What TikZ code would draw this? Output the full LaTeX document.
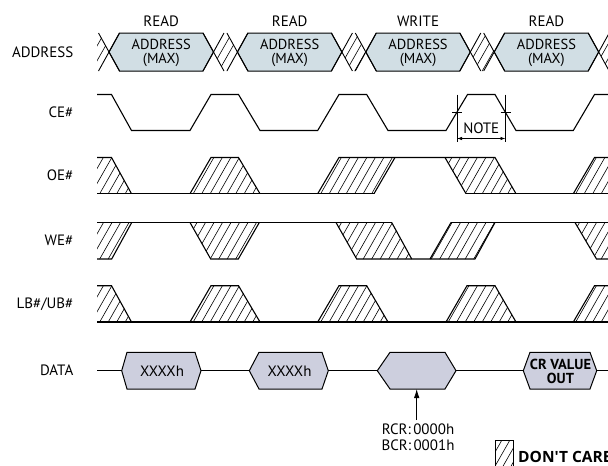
\documentclass[tikz,border=0pt]{standalone}
\usepackage{fontspec}
\setmainfont{PT Sans}
\newfontfamily\legendfont{Open Sans}
\usetikzlibrary{arrows.meta}
\definecolor{addrcol}{RGB}{209,222,228}
\definecolor{datacol}{RGB}{205,207,222}
\tikzset{
  sig/.style={line width=1.1pt, line join=miter, line cap=butt},
  thinline/.style={line width=0.8pt},
  hatchline/.style={line width=0.6pt},
  lbl/.style={anchor=east, inner sep=0pt, font=\fontsize{15}{15}\selectfont},
  txt/.style={inner sep=0pt, align=center, font=\fontsize{15}{12.5}\selectfont},
  addrtxt/.style={inner sep=0pt, align=center, font=\fontsize{14.5}{13.5}\selectfont},
  boldtxt/.style={inner sep=0pt, align=center, font=\fontsize{14.5}{13.5}\selectfont\bfseries},
  addrhex/.style={sig, line width=1pt, fill=addrcol},
  datahex/.style={sig, line width=1pt, fill=datacol},
}
\newcommand\hatchclip[3]{%
  \begin{scope}
    \clip #3;
    \foreach \hx in {30,38.5,...,620}
      \draw[hatchline] (\hx,#2+3) -- ++({0.57*(#2-#1+6)},{-(#2-#1+6)});
  \end{scope}}
\begin{document}
\begin{tikzpicture}[x=1pt,y=-1pt]
\useasboundingbox (0,0) rectangle (608,466);
\clip (0,0) rectangle (608,466);

% ---------- row labels ----------
\node[lbl] (laddr) at (73.5,52) {ADDRESS};
\node[lbl] (lce)   at (73.5,112.5) {CE\#};
\node[lbl] (loe)   at (73.5,175.6) {OE\#};
\node[lbl] (lwe)   at (73.5,240.7) {WE\#};
\node[lbl] (llb)   at (73.5,304) {LB\#/UB\#};
\node[lbl] (ldata) at (73.5,370.7) {DATA};

% ---------- ADDRESS ----------
\hatchclip{33}{71}{(97,33)--(98.5,33)--(109,52)--(98.5,71)--(97,71)--cycle
  (213.5,52)--(224,33)--(226.9,33)--(237.4,52)--(226.9,71)--(224,71)--cycle
  (341.9,52)--(352.4,33)--(355.3,33)--(365.8,52)--(355.3,71)--(352.4,71)--cycle
  (470.3,52)--(480.8,33)--(483.7,33)--(494.2,52)--(483.7,71)--(480.8,71)--cycle
  (598.7,52)--(609.2,33)--(612.1,33)--(622.6,52)--(612.1,71)--(609.2,71)--cycle}
\begin{scope}
\clip (97,0) rectangle (620,100);
\foreach \i/\lab in {0/READ,1/READ,2/WRITE,3/READ}{
  \pgfmathsetmacro\L{109+128.4*\i}
  \pgfmathsetmacro\R{\L+104.5}
  \filldraw[addrhex] (\L,52) -- (\L+10.5,33) -- (\R-10.5,33) -- (\R,52) -- (\R-10.5,71) -- (\L+10.5,71) -- cycle;
  \draw[sig,line width=0.9pt] (\L+10.5,33) -- (\L-10.5,71);
  \draw[sig,line width=0.9pt] (\L+10.5,71) -- (\L-10.5,33);
  \draw[sig,line width=0.9pt] (\R-10.5,33) -- (\R+10.5,71);
  \draw[sig,line width=0.9pt] (\R-10.5,71) -- (\R+10.5,33);
}
\end{scope}
\foreach \i/\lab in {0/READ,1/READ,2/WRITE,3/READ}{
  \pgfmathsetmacro\L{109+128.4*\i}
  \pgfmathsetmacro\R{\L+104.5}
  \node[addrtxt] (addr\i) at ({(\L+\R)/2},53) {ADDRESS\\(MAX)};
  \node[txt] (op\i) at ({(\L+\R)/2},21) {\lab};
}

% ---------- CE# ----------
\draw[sig] (97,94.5) -- (111.5,94.5) -- (131.5,130.5) -- (190,130.5) -- (211,94.5)
  -- (238.5,94.5) -- (260,130.5) -- (317.7,130.5) -- (339,94.5) -- (366.7,94.5)
  -- (388,130.5) -- (446,130.5) -- (467.5,94.5) -- (495,94.5) -- (516,130.5)
  -- (573.3,130.5) -- (594.5,94.5) -- (612,94.5);
\coordinate (n1) at (457,94.5);
\coordinate (n2) at (505.5,94.5);
\coordinate (n1b) at (457,142);
\coordinate (n2b) at (505.5,142);
\draw[thinline] (n1) -- (n1b);
\draw[thinline] (n2) -- (n2b);
\draw[thinline] (452,112.5) -- (462,112.5);
\draw[thinline] (500.5,112.5) -- (510.5,112.5);
\coordinate (na) at (457,138.5);
\coordinate (nb) at (505.5,138.5);
\draw[thinline,{Latex[length=5pt,width=3.5pt]}-{Latex[length=5pt,width=3.5pt]}] (na) -- (nb);
\node[txt] (note) at (481.25,128) {NOTE};

% ---------- OE# ----------
\hatchclip{157.5}{193.7}{(97,157.5)--(111.5,157.5)--(131.5,193.7)--(97,193.7)--cycle
  (190,193.7)--(211,157.5)--(238.5,157.5)--(260,193.7)--cycle
  (317.7,193.7)--(339,157.5)--(395,157.5)--(374,193.7)--cycle
  (445,157.5)--(495,157.5)--(516,193.7)--(466,193.7)--cycle
  (573.3,193.7)--(594.5,157.5)--(612,157.5)--(612,193.7)--cycle}
\draw[sig] (97,157.5) -- (111.5,157.5) -- (131.5,193.7);
\draw[sig] (97,193.7) -- (374,193.7);
\draw[sig] (190,193.7) -- (211,157.5) -- (238.5,157.5) -- (260,193.7);
\draw[sig] (317.7,193.7) -- (339,157.5) -- (495,157.5) -- (516,193.7);
\draw[sig] (374,193.7) -- (395,157.5);
\draw[sig] (445,157.5) -- (466,193.7);
\draw[sig] (466,193.7) -- (612,193.7);
\draw[sig] (573.3,193.7) -- (594.5,157.5) -- (612,157.5);

% ---------- WE# ----------
\hatchclip{222.5}{259}{(97,222.5)--(131.7,222.5)--(111.7,259)--(97,259)--cycle
  (190,222.5)--(259.3,222.5)--(238.3,259)--(210.7,259)--cycle
  (336,222.5)--(391.7,222.5)--(411.7,259)--(356.7,259)--cycle
  (430,259)--(451,222.5)--(495,222.5)--(475,259)--cycle
  (575,222.5)--(612,222.5)--(612,259)--(596.5,259)--cycle}
\draw[sig] (97,222.5) -- (391.7,222.5);
\draw[sig] (451,222.5) -- (612,222.5);
\draw[sig] (97,259) -- (111.7,259) -- (131.7,222.5);
\draw[sig] (190,222.5) -- (210.7,259) -- (238.3,259) -- (259.3,222.5);
\draw[sig] (336,222.5) -- (356.7,259) -- (475,259) -- (495,222.5);
\draw[sig] (391.7,222.5) -- (411.7,259);
\draw[sig] (430,259) -- (451,222.5);
\draw[sig] (575,222.5) -- (596.5,259) -- (612,259);

% ---------- LB#/UB# ----------
\hatchclip{285.7}{322}{(97,285.7)--(111.5,285.7)--(131.5,322)--(97,322)--cycle
  (190,322)--(211,285.7)--(238.5,285.7)--(260,322)--cycle
  (317.7,322)--(339,285.7)--(366.7,285.7)--(388,322)--cycle
  (446,322)--(467,285.7)--(495,285.7)--(516,322)--cycle
  (573.3,322)--(594.5,285.7)--(612,285.7)--(612,322)--cycle}
\draw[sig] (97,322) -- (612,322);
\draw[sig] (97,285.7) -- (111.5,285.7) -- (131.5,322);
\draw[sig] (190,322) -- (211,285.7) -- (238.5,285.7) -- (260,322);
\draw[sig] (317.7,322) -- (339,285.7) -- (366.7,285.7) -- (388,322);
\draw[sig] (446,322) -- (467,285.7) -- (495,285.7) -- (516,322);
\draw[sig] (573.3,322) -- (594.5,285.7) -- (612,285.7);

% ---------- DATA ----------
\draw[sig] (97,370.7) -- (121.7,370.7);
\draw[sig] (201,370.7) -- (249.3,370.7);
\draw[sig] (328.3,370.7) -- (377.3,370.7);
\draw[sig] (456,370.7) -- (523.3,370.7);
\draw[sig] (596.7,370.7) -- (612,370.7);
\filldraw[datahex] (121.7,370.7) -- (127,352.3) -- (195,352.3) -- (201,370.7) -- (195,389) -- (127,389) -- cycle;
\filldraw[datahex] (249.3,370.7) -- (259,352.3) -- (322,352.3) -- (328.3,370.7) -- (322,389) -- (259,389) -- cycle;
\filldraw[datahex] (377.3,370.7) -- (390,352.3) -- (445,352.3) -- (456,370.7) -- (445,389) -- (390,389) -- cycle;
\filldraw[datahex] (523.3,370.7) -- (530,352.3) -- (590,352.3) -- (596.7,370.7) -- (590,389) -- (530,389) -- cycle;
\node[txt] (d1) at (162,371) {XXXXh};
\node[txt] (d2) at (289.5,371) {XXXXh};
\node[boldtxt] (d4) at (560.5,371.5) {CR VALUE\\OUT};
\coordinate (hex3b) at (416.7,389);
\coordinate (arrtail) at (416.7,420);
\draw[thinline,-{Latex[length=9pt,width=5.5pt]}] (arrtail) -- (hex3b);
\node[txt,font=\fontsize{15}{16}\selectfont] (rcr) at (418,437) {RCR:\,0000h\\BCR:\,0001h};

% ---------- legend ----------
\begin{scope}
  \clip (495,440) rectangle (513.3,480);
  \foreach \hx in {470,478,...,520}
    \draw[hatchline] (\hx,482) -- ++({0.57*44},-44);
\end{scope}
\draw[sig,line width=0.9pt] (495,440) rectangle (513.3,480);
\node[inner sep=0pt,anchor=west,font=\legendfont\fontsize{15.5}{15.5}\selectfont\bfseries] (dc) at (518,456.7) {DON'T CARE};
\end{tikzpicture}
\end{document}
